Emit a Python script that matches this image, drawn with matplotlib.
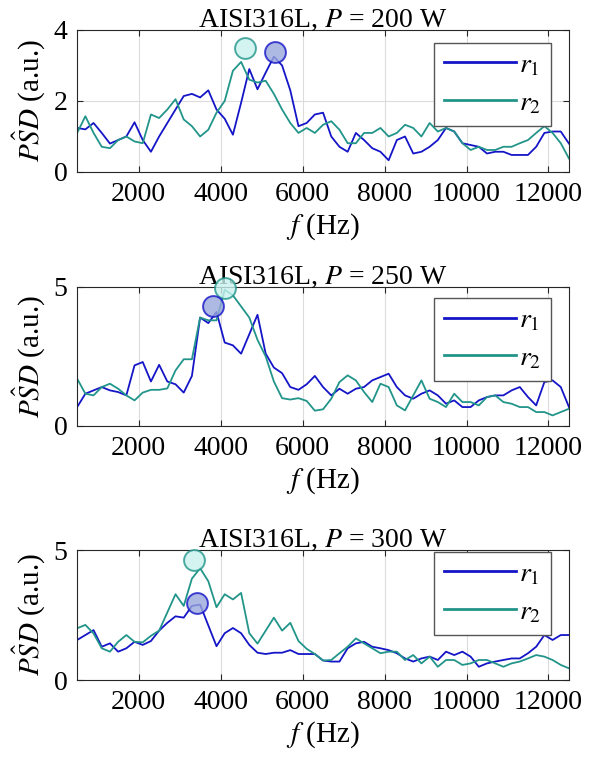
import numpy as np
import matplotlib
matplotlib.use("Agg")
import matplotlib.pyplot as plt

plt.rcParams['font.family'] = ['Liberation Serif', 'DejaVu Serif']
plt.rcParams['mathtext.fontset'] = 'stix'
plt.rcParams['font.size'] = 20

# frequency grid (Hz) the traces were read on
freq = np.arange(500, 12501, 200)

# P = 200 W
r1_200 = [1.24, 1.2, 1.38, 1.1, 0.8, 0.9, 1.0, 1.4, 0.9, 0.57, 1.0, 1.38, 1.76, 2.14, 2.2, 2.1,
          2.3, 1.76, 1.5, 1.05, 1.95, 2.9, 2.33, 2.8, 3.25, 3.0, 2.3, 1.29, 1.38, 1.62, 1.67,
          1.0, 0.71, 0.57, 1.1, 0.9, 0.67, 0.57, 0.33, 0.9, 1.0, 0.52, 0.57, 0.71, 0.9, 1.24,
          1.14, 0.81, 0.76, 0.71, 0.52, 0.57, 0.57, 0.48, 0.48, 0.48, 0.71, 1.1, 1.14, 1.14, 0.8]
r2_200 = [1.1, 1.57, 1.1, 0.71, 0.67, 0.9, 1.0, 0.86, 0.81, 1.62, 1.52, 1.76, 2.05, 1.48, 1.29,
          1.0, 1.19, 1.67, 2.0, 2.85, 3.1, 2.6, 2.52, 2.57, 2.2, 1.76, 1.38, 1.1, 1.24, 1.1, 1.33,
          1.43, 1.19, 0.81, 0.81, 1.1, 1.1, 1.24, 1.0, 1.1, 1.33, 1.24, 1.0, 1.38, 1.14, 1.24,
          1.14, 0.81, 0.62, 0.71, 0.62, 0.62, 0.71, 0.71, 0.81, 0.9, 1.1, 1.29, 1.1, 0.81, 0.38]

# P = 250 W
r1_250 = [0.68, 1.16, 1.28, 1.4, 1.28, 1.22, 1.1, 2.18, 2.3, 1.6, 2.2, 1.6, 1.5, 1.2, 1.8, 3.9,
          3.7, 4.1, 3.0, 2.9, 2.6, 3.3, 4.0, 2.6, 2.1, 1.9, 1.4, 1.3, 1.5, 1.8, 1.4, 1.1, 1.34,
          1.16, 1.34, 1.4, 1.64, 1.76, 1.88, 1.4, 1.1, 0.98, 1.16, 1.28, 1.1, 0.8, 0.92, 0.68,
          0.68, 0.92, 1.04, 1.1, 1.1, 1.28, 1.4, 1.04, 0.74, 1.58, 1.64, 1.4, 0.68]
r2_250 = [1.7, 1.16, 1.1, 1.4, 1.52, 1.34, 1.1, 0.92, 1.2, 1.3, 1.3, 1.35, 2.0, 2.4, 2.4, 3.9,
          3.8, 3.8, 4.9, 4.7, 4.3, 3.9, 3.1, 2.5, 1.6, 1.0, 0.95, 1.0, 0.9, 0.55, 0.6, 0.98,
          1.58, 1.82, 1.64, 1.22, 0.86, 1.52, 1.4, 0.74, 0.56, 1.1, 1.64, 0.98, 0.86, 0.68,
          1.16, 0.86, 0.86, 0.74, 1.04, 1.1, 0.86, 0.8, 0.68, 0.68, 0.5, 0.5, 0.38, 0.5, 0.62]

# P = 300 W
r1_300 = [1.54, 1.73, 1.92, 1.28, 1.41, 1.09, 1.22, 1.47, 1.35, 1.5, 1.9, 2.2, 2.45, 2.4, 2.85,
          2.9, 2.1, 1.3, 1.8, 2.0, 1.8, 1.35, 1.05, 1.0, 1.05, 1.05, 1.15, 1.0, 1.0, 1.0, 0.75,
          0.71, 0.71, 1.22, 1.41, 1.47, 1.28, 1.22, 1.15, 1.03, 0.83, 0.71, 0.83, 0.9, 0.77,
          1.09, 0.96, 1.09, 0.9, 0.51, 0.64, 0.71, 0.77, 0.83, 0.83, 1.03, 1.28, 1.73, 1.54,
          1.73, 1.73]
r2_300 = [1.99, 2.12, 1.79, 1.22, 1.09, 1.47, 1.73, 1.47, 1.45, 1.7, 1.9, 2.6, 3.3, 2.85, 3.9,
          4.3, 3.8, 2.8, 3.3, 3.1, 3.35, 1.8, 1.4, 1.9, 2.4, 1.9, 2.2, 1.5, 1.2, 1.0, 0.75,
          0.77, 1.03, 1.28, 1.6, 1.41, 1.22, 1.03, 1.09, 1.09, 0.77, 0.96, 0.64, 0.9, 0.51,
          0.77, 0.77, 0.58, 0.64, 0.77, 0.77, 0.64, 0.51, 0.64, 0.71, 0.83, 0.96, 0.9, 0.77,
          0.58, 0.45]

powers = [200, 250, 300]
r1_all = [r1_200, r1_250, r1_300]
r2_all = [r2_200, r2_250, r2_300]
ymax = [4, 5, 5]
yticks = [[0, 2, 4], [0, 5], [0, 5]]

# detected peaks (circles)
peak_f_r1 = [5325, 3815, 3430]
peak_v_r1 = [3.38, 4.33, 2.97]
peak_f_r2 = [4595, 4105, 3340]
peak_v_r2 = [3.5, 4.98, 4.6]

c1 = '#1515c8'
c2 = '#22958a'

fig = plt.figure(figsize=(5.89, 7.57), dpi=100)
boxes = [[0.131, 0.7728, 0.835, 0.1876],
         [0.131, 0.4373, 0.835, 0.1836],
         [0.131, 0.1017, 0.835, 0.1717]]
leg_top = [0.908, 0.92, 0.985]

for i in range(3):
    ax = fig.add_axes(boxes[i])
    ax.plot(freq, r1_all[i], color=c1, lw=1.3, label='$r_1$')
    ax.plot(freq, r2_all[i], color=c2, lw=1.3, label='$r_2$')
    ax.plot(peak_f_r2[i], peak_v_r2[i], 'o', ms=15, mfc='#c8f2ee', mec=c2,
            mew=1.4, alpha=0.8, clip_on=False, zorder=5)
    ax.plot(peak_f_r1[i], peak_v_r1[i], 'o', ms=15, mfc='#9aa8dc', mec=c1,
            mew=1.4, alpha=0.8, clip_on=False, zorder=5)
    ax.set_xlim(500, 12500)
    ax.set_ylim(0, ymax[i])
    ax.set_xticks([2000, 4000, 6000, 8000, 10000, 12000])
    ax.set_yticks(yticks[i])
    ax.grid(True, color='#dcdcdc', lw=0.8)
    ax.tick_params(direction='in', top=True, right=True, length=4, width=0.8,
                   colors='#262626', labelcolor='black', pad=7)
    for s in ax.spines.values():
        s.set_color('#262626')
        s.set_linewidth(0.8)
    ax.set_title('AISI316L, $P$ = %d W' % powers[i], fontsize=20, pad=2)
    ax.set_xlabel('$f$ (Hz)', fontsize=21, labelpad=3)
    ax.set_ylabel(r'$P\hat{S}D$ (a.u.)', fontsize=21)
    ax.yaxis.set_label_coords(-0.062, 0.5)
    leg = ax.legend(loc='upper right', bbox_to_anchor=(0.963, leg_top[i]),
                    handlelength=2.6, fancybox=False, framealpha=1,
                    edgecolor='#555555', borderpad=0.35, labelspacing=0.45,
                    handletextpad=0.1, borderaxespad=0, fontsize=20)
    leg.get_frame().set_linewidth(1.0)
    for ln in leg.get_lines():
        ln.set_linewidth(2.0)

fig.savefig('out.png', dpi=100)
